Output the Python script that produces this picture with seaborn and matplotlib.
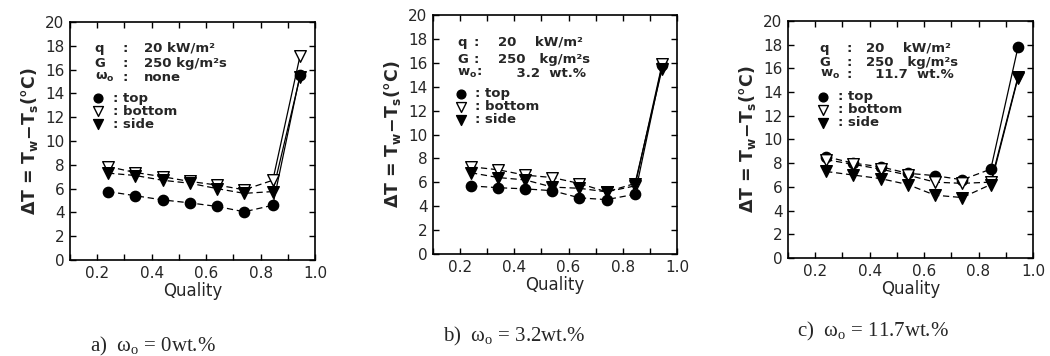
import numpy as np
import pandas as pd
import matplotlib
matplotlib.use("Agg")
import matplotlib.pyplot as plt
import seaborn as sns

# ---------------------------------------------------------------------------
# DATA
# ---------------------------------------------------------------------------
quality = [0.24, 0.34, 0.44, 0.54, 0.64, 0.74, 0.845, 0.945]

# a) omega_o = 0 wt.%
a_top = [5.75, 5.4, 5.05, 4.8, 4.5, 4.05, 4.6, 15.55]
a_bottom = [7.85, 7.35, 7.0, 6.6, 6.3, 5.9, 6.7, 17.15]
a_side = [7.3, 7.1, 6.7, 6.45, 6.0, 5.6, 5.75, 15.4]

# b) omega_o = 3.2 wt.%
b_top = [5.7, 5.55, 5.45, 5.3, 4.7, 4.55, 5.0, 15.8]
b_bottom = [7.3, 7.05, 6.6, 6.4, 5.9, 5.2, 5.7, 15.9]
b_side = [6.8, 6.4, 6.2, 5.6, 5.5, 5.2, 5.9, 15.5]

# c) omega_o = 11.7 wt.%
c_top = [8.55, 8.0, 7.7, 7.15, 6.95, 6.6, 7.5, 17.8]
c_bottom = [8.3, 7.9, 7.5, 7.0, 6.4, 6.3, 6.4, 15.3]
c_side = [7.3, 7.0, 6.7, 6.2, 5.3, 5.1, 6.2, 15.2]

series_names = ["top", "bottom", "side"]
captions = [r"a)  $\omega_o$ = 0wt.%", r"b)  $\omega_o$ = 3.2wt.%", r"c)  $\omega_o$ = 11.7wt.%"]
cond_labels = [["q", "G", r"ω$_o$"], ["q", "G", r"w$_o$:"], ["q", "G", r"w$_o$"]]
cond_colons = [[":", ":", ":"], [":", ":", ""], [":", ":", ":"]]
cond_values = [
    ["20 kW/m²", "250 kg/m²s", "none"],
    ["20    kW/m²", "250   kg/m²s", "    3.2  wt.%"],
    ["20    kW/m²", "250   kg/m²s", "  11.7  wt.%"],
]

panel_data = [
    [a_top, a_bottom, a_side],
    [b_top, b_bottom, b_side],
    [c_top, c_bottom, c_side],
]

# ---------------------------------------------------------------------------
# STYLE
# ---------------------------------------------------------------------------
sns.set_theme(style="ticks")
plt.rcParams["font.family"] = ["DejaVu Sans"]
plt.rcParams["mathtext.default"] = "regular"

marker_style = {
    "top": dict(marker="o", facecolor="black", edgecolor="black", s=55),
    "bottom": dict(marker="v", facecolor="white", edgecolor="black", s=70),
    "side": dict(marker="v", facecolor="black", edgecolor="black", s=70),
}

# axes boxes in figure fraction [left, bottom, width, height]
boxes = [
    [0.0667, 0.2697, 0.2333, 0.6685],
    [0.4124, 0.2865, 0.2324, 0.6713],
    [0.7505, 0.2753, 0.2333, 0.6657],
]
# x positions of the condition text columns (axes fraction)
text_cols = [
    (0.10, 0.215, 0.30),
    (0.10, 0.165, 0.265),
    (0.13, 0.24, 0.32),
]
text_rows = [(0.89, 0.827, 0.767), (0.887, 0.815, 0.755), (0.886, 0.827, 0.775)]
legend_anchor = [(0.055, 0.735), (0.055, 0.725), (0.085, 0.735)]
caption_pos = [(90, 346), (443, 336), (797, 331)]

fig = plt.figure(figsize=(10.5, 3.56), dpi=100)

for i in range(3):
    ax = fig.add_axes(boxes[i])
    tops, bottoms, sides = panel_data[i]
    df = pd.DataFrame({
        "Quality": quality * 3,
        "dT": tops + bottoms + sides,
        "pos": [n for n in series_names for _ in quality],
    })

    for name in series_names:
        sub = df[df["pos"] == name]
        # dashed trend through the low-quality points
        sns.lineplot(data=sub.iloc[:7], x="Quality", y="dT", ax=ax, color="black",
                     linewidth=0.9, linestyle=(0, (5, 3)), estimator=None, sort=False,
                     legend=False)
        # solid steep rise to dry-out
        sns.lineplot(data=sub.iloc[6:], x="Quality", y="dT", ax=ax, color="black",
                     linewidth=0.9, estimator=None, sort=False, legend=False)

    for name in series_names:
        sub = df[df["pos"] == name]
        st = marker_style[name]
        sns.scatterplot(data=sub, x="Quality", y="dT", ax=ax, marker=st["marker"],
                        color=st["facecolor"], edgecolor=st["edgecolor"], linewidth=1.0,
                        s=st["s"], label=": " + name, zorder=5)

    ax.set_xlim(0.1, 1.0)
    ax.set_ylim(0, 20)
    ax.set_xticks(np.arange(0.2, 1.01, 0.2))
    ax.set_xticks(np.arange(0.1, 1.0, 0.1), minor=True)
    ax.set_xticklabels(["0.2", "0.4", "0.6", "0.8", "1.0"])
    ax.set_yticks(np.arange(0, 21, 2))
    ax.tick_params(which="both", direction="in", top=True, right=True, length=4,
                   width=1.0, color="black", labelsize=11, pad=4)
    for sp in ax.spines.values():
        sp.set_linewidth(1.2)
        sp.set_color("black")

    ax.set_xlabel("Quality", fontsize=12, labelpad=1)
    ax.set_ylabel("ΔT = T$_w$$-$T$_s$(°C)", fontsize=12.5, fontweight="bold", labelpad=4)

    # operating conditions
    cx = text_cols[i]
    for r in range(3):
        y = text_rows[i][r]
        ax.text(cx[0], y, cond_labels[i][r], transform=ax.transAxes, fontsize=9.5,
                fontweight="bold", va="center", ha="left")
        ax.text(cx[1], y, cond_colons[i][r], transform=ax.transAxes, fontsize=9.5,
                fontweight="bold", va="center", ha="left")
        ax.text(cx[2], y, cond_values[i][r], transform=ax.transAxes, fontsize=9.5,
                fontweight="bold", va="center", ha="left")

    leg = ax.legend(loc="upper left", bbox_to_anchor=legend_anchor[i], frameon=False,
                    fontsize=9.5, handletextpad=0.5, labelspacing=0.0,
                    borderpad=0, handlelength=1.2, markerscale=0.85)
    for t in leg.get_texts():
        t.set_fontweight("bold")

    cx_px, cy_px = caption_pos[i]
    fig.text(cx_px / 1050, 1 - cy_px / 356, captions[i], fontsize=15,
             family="Liberation Serif", math_fontfamily="stix", va="center", ha="left")

plt.savefig("out.png", dpi=100)
